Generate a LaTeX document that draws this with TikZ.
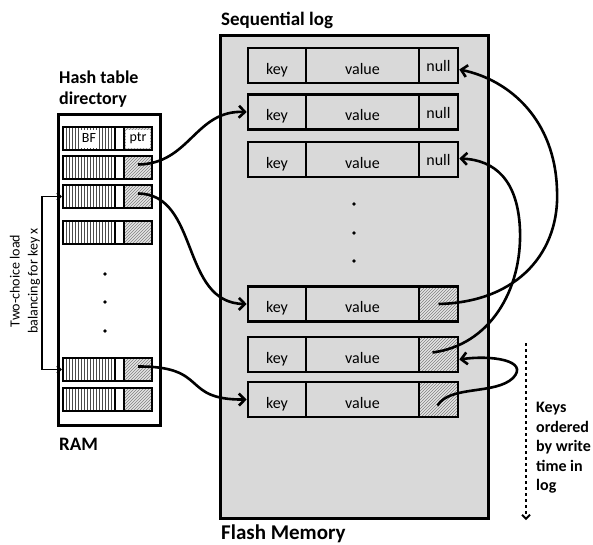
\documentclass[tikz,border=0pt]{standalone}
\usepackage{fontspec}
\setmainfont{Carlito}
\usetikzlibrary{arrows.meta,patterns,calc}
\begin{document}
\begin{tikzpicture}[x=1pt,y=-1pt,
  logcell/.style={draw, line width=2.6pt, fill=black!15, minimum height=35pt, inner sep=0pt, text height=17pt, text depth=0pt, font=\fontsize{16}{19}\selectfont},
  keycell/.style={logcell, minimum width=58pt},
  valcell/.style={logcell, minimum width=113pt},
  ptrcell/.style={logcell, minimum width=39pt},
  nullcell/.style={ptrcell, text height=12pt},
  hatchcell/.style={ptrcell, preaction={fill=black!10}, pattern=north east lines, pattern color=black!50},
  ramcell/.style={draw, line width=2.4pt, minimum height=23pt, inner sep=0pt},
  bfcell/.style={ramcell, minimum width=52pt, preaction={fill=white}, pattern=vertical lines, pattern color=black!70},
  gapcell/.style={ramcell, minimum width=9pt, fill=white},
  rptr/.style={ramcell, minimum width=28pt, preaction={fill=black!10}, pattern=north east lines, pattern color=black!50},
  lbl/.style={fill=white, inner sep=1pt, minimum height=18pt, font=\fontsize{14}{16}\selectfont},
  title/.style={anchor=base west, inner sep=0pt, font=\bfseries\fontsize{19}{22}\selectfont},
  conn/.style={line width=2.6pt, -{Straight Barb[length=6pt,width=12pt]}},
  dotmark/.style={circle, fill=black, inner sep=0pt, minimum size=3.6pt}
]
\useasboundingbox (0,0) rectangle (593,544);

% Flash box and log
\node[draw, fill=black!15, line width=2.6pt, minimum width=268pt, minimum height=483pt, anchor=north west, inner sep=0pt] (flash) at (219,34) {};
\node[title] (seqlog) at (221,25) {Sequential log};
\node[title, font=\bfseries\fontsize{21}{24}\selectfont] (flashlbl) at (221,539) {Flash Memory};

\node[keycell] (l1k) at (277,65.5) {key};
\node[valcell] (l1v) at (362.5,65.5) {value};
\node[nullcell] (l1p) at (438.5,65.5) {null};

\node[keycell] (l2k) at (277,112) {key};
\node[valcell] (l2v) at (362.5,112) {value};
\node[nullcell] (l2p) at (438.5,112) {null};

\node[keycell] (l3k) at (277,159.5) {key};
\node[valcell] (l3v) at (362.5,159.5) {value};
\node[nullcell] (l3p) at (438.5,159.5) {null};

\node[dotmark] (ld1) at (354,204) {};
\node[dotmark] (ld2) at (354,233) {};
\node[dotmark] (ld3) at (354,261) {};

\node[keycell] (l4k) at (277,304) {key};
\node[valcell] (l4v) at (362.5,304) {value};
\node[hatchcell] (l4p) at (438.5,304) {};

\node[keycell] (l5k) at (277,354.5) {key};
\node[valcell] (l5v) at (362.5,354.5) {value};
\node[hatchcell] (l5p) at (438.5,354.5) {};

\node[keycell] (l6k) at (277,399.5) {key};
\node[valcell] (l6v) at (362.5,399.5) {value};
\node[hatchcell] (l6p) at (438.5,399.5) {};

% RAM
\node[draw, fill=white, line width=2.6pt, minimum width=102pt, minimum height=311pt, anchor=north west, inner sep=0pt] (ram) at (57,113) {};
\node[title, font=\bfseries\fontsize{18}{21}\selectfont] (ht1) at (59,83) {Hash table};
\node[title, font=\bfseries\fontsize{18}{21}\selectfont] (ht2) at (59,104) {directory};
\node[title] (ramlbl) at (59,450) {RAM};

\foreach \n/\yc in {1/138.5, 2/167.5, 3/196.5, 4/232.5, 5/369.5, 6/399.5} {
  \node[bfcell] (r\n b) at (89,\yc) {};
  \node[rptr] (r\n p) at (138,\yc) {};
  \node[gapcell] (r\n g) at (119.5,\yc) {};
}
\node[lbl] (bflbl) at (89,138.5) {BF};
\node[lbl, minimum width=24pt] (ptrlbl) at (138,138.5) {ptr};

\node[dotmark] (rd1) at (105,274) {};
\node[dotmark] (rd2) at (105,302) {};
\node[dotmark] (rd3) at (105,331) {};

% two-choice bracket
\draw[line width=1.8pt, {Straight Barb[length=3.5pt,width=7pt]}-{Straight Barb[length=3.5pt,width=7pt]}]
  (r3b.west) -- ++(-20,0) |- (r5b.west);
\node[rotate=90, align=center, font=\fontsize{14}{18}\selectfont] (twochoice) at (25,281)
  {Two-choice load\\balancing for key x};

% RAM -> log connectors
\draw[conn] ($(r2p.center)+(0,-3)$) .. controls (190,164) and (195,110) .. (l2k.west);
\draw[conn] ($(r3p.center)+(0,-3)$) .. controls (200,194) and (180,303) .. (l4k.west);
\draw[conn] ($(r5p.center)+(0,-3)$) .. controls (210,366) and (180,400) .. (l6k.west);

% log chain connectors
\draw[conn] (l4p.center) .. controls (520,302) and (560,250) .. (557,190)
  .. controls (555,120) and (510,80) .. ($(l1p.east)+(0,4)$);
\draw[conn] ($(l5p.center)+(-6,-2)$) .. controls (490,345) and (522,290) .. (520,230)
  .. controls (518,180) and (495,160) .. ($(l3p.east)+(0,-1)$);
\draw[conn] ($(l6p.center)+(-1,6)$) .. controls (450,385) and (495,395) .. (513,378)
  .. controls (530,360) and (490,355) .. ($(l5p.east)+(0,5)$);

% ordering arrow
\coordinate (dtop) at (526,343);
\coordinate (dbot) at (526,520);
\draw[line width=1.8pt, dashed, -{Straight Barb[length=4pt,width=8pt]}] (dtop) -- (dbot);
\node[anchor=north west, align=left, inner sep=0pt, font=\bfseries\fontsize{16}{19.5}\selectfont] (keysord) at (536,402)
  {Keys\\ordered\\by write\\time in\\log};
\end{tikzpicture}
\end{document}
